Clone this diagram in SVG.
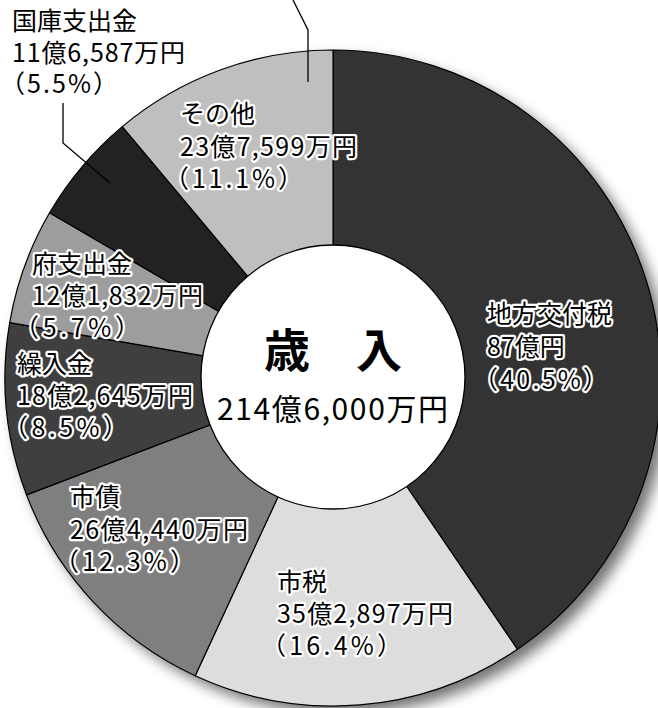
<svg xmlns="http://www.w3.org/2000/svg" width="658" height="708" viewBox="0 0 658 708">
<style>
.sl{stroke:#000;stroke-width:1.2;stroke-linejoin:round}
.t{font-family:"Noto Sans CJK JP","Noto Sans",sans-serif;font-size:25px;fill:#000}
.h{stroke:#fff;stroke-width:4.5px;stroke-linejoin:round;paint-order:stroke}
.ld{fill:none;stroke:#000;stroke-width:1.3}
</style>
<defs>
<filter id="sh" x="-20%" y="-20%" width="140%" height="140%">
<feGaussianBlur stdDeviation="7"/>
</filter>
</defs>
<rect width="658" height="708" fill="#fff"/>
<circle cx="341" cy="386" r="328" fill="#000" opacity="0.55" filter="url(#sh)"/>
<g id="chihou">
<path class="sl" fill="#333333" d="M333,378 L333,50 A328,328 0 0 1 517.4,649.3 Z"/>
<text class="t h" x="487" y="323">地方交付税</text>
<text class="t h" x="487" y="356">87億円</text>
<text class="t h" x="473" y="389" textLength="135">（40.5%）</text>
</g>
<g id="shizei">
<path class="sl" fill="#dddddd" d="M333,378 L517.4,649.3 A328,328 0 0 1 195.2,675.7 Z"/>
<text class="t h" x="277" y="591">市税</text>
<text class="t h" x="277" y="623" textLength="176">35億2,897万円</text>
<text class="t h" x="261" y="655" textLength="141">（16.4%）</text>
</g>
<g id="shisai">
<path class="sl" fill="#7f7f7f" d="M333,378 L195.2,675.7 A328,328 0 0 1 26.5,494.9 Z"/>
<text class="t h" x="70" y="506">市債</text>
<text class="t h" x="70" y="539" textLength="178">26億4,440万円</text>
<text class="t h" x="54" y="571" textLength="141">（12.3%）</text>
</g>
<g id="kuriire">
<path class="sl" fill="#3f3f3f" d="M333,378 L26.5,494.9 A328,328 0 0 1 9.7,322.6 Z"/>
</g>
<g id="fushishutsu">
<path class="sl" fill="#9d9d9d" d="M333,378 L9.7,322.6 A328,328 0 0 1 49.6,212.8 Z"/>
</g>
<g id="kokko">
<path class="sl" fill="#222222" d="M333,378 L49.6,212.8 A328,328 0 0 1 122.3,126.6 Z"/>
<text class="t" x="12" y="30">国庫支出金</text>
<text class="t" x="12" y="62" textLength="173">11億6,587万円</text>
<text class="t" x="0" y="93" textLength="118">（5.5%）</text>
</g>
<g id="sonota">
<path class="sl" fill="#bfbfbf" d="M333,378 L122.3,126.6 A328,328 0 0 1 333,50 Z"/>
<text class="t h" x="180" y="123">その他</text>
<text class="t h" x="180" y="156" textLength="177">23億7,599万円</text>
<text class="t h" x="164" y="188" textLength="139">（11.1%）</text>
</g>
<g id="fushishutsu-label">
<text class="t h" x="32" y="273">府支出金</text>
<text class="t h" x="32" y="305" textLength="171">12億1,832万円</text>
<text class="t h" x="14" y="337" textLength="126">（5.7%）</text>
</g>
<g id="kuriire-label">
<text class="t h" x="17" y="373">繰入金</text>
<text class="t h" x="17" y="405" textLength="176">18億2,645万円</text>
<text class="t h" x="3" y="437" textLength="125">（8.5%）</text>
</g>
<g id="center">
<circle cx="333" cy="377" r="132" fill="#fff" stroke="#000" stroke-width="1.3"/>
<text x="333" y="367" text-anchor="middle" font-family="'Noto Sans CJK JP',sans-serif" font-size="46" font-weight="bold">歳　入</text>
<text x="217" y="420" font-family="'Noto Sans CJK JP',sans-serif" font-size="30" textLength="231">214億6,000万円</text>
</g>
<g id="connectors">
<polyline class="ld" points="293,0 308,30 308,82"/>
<polyline class="ld" points="63,103 63,143 110,183"/>
</g>
</svg>
